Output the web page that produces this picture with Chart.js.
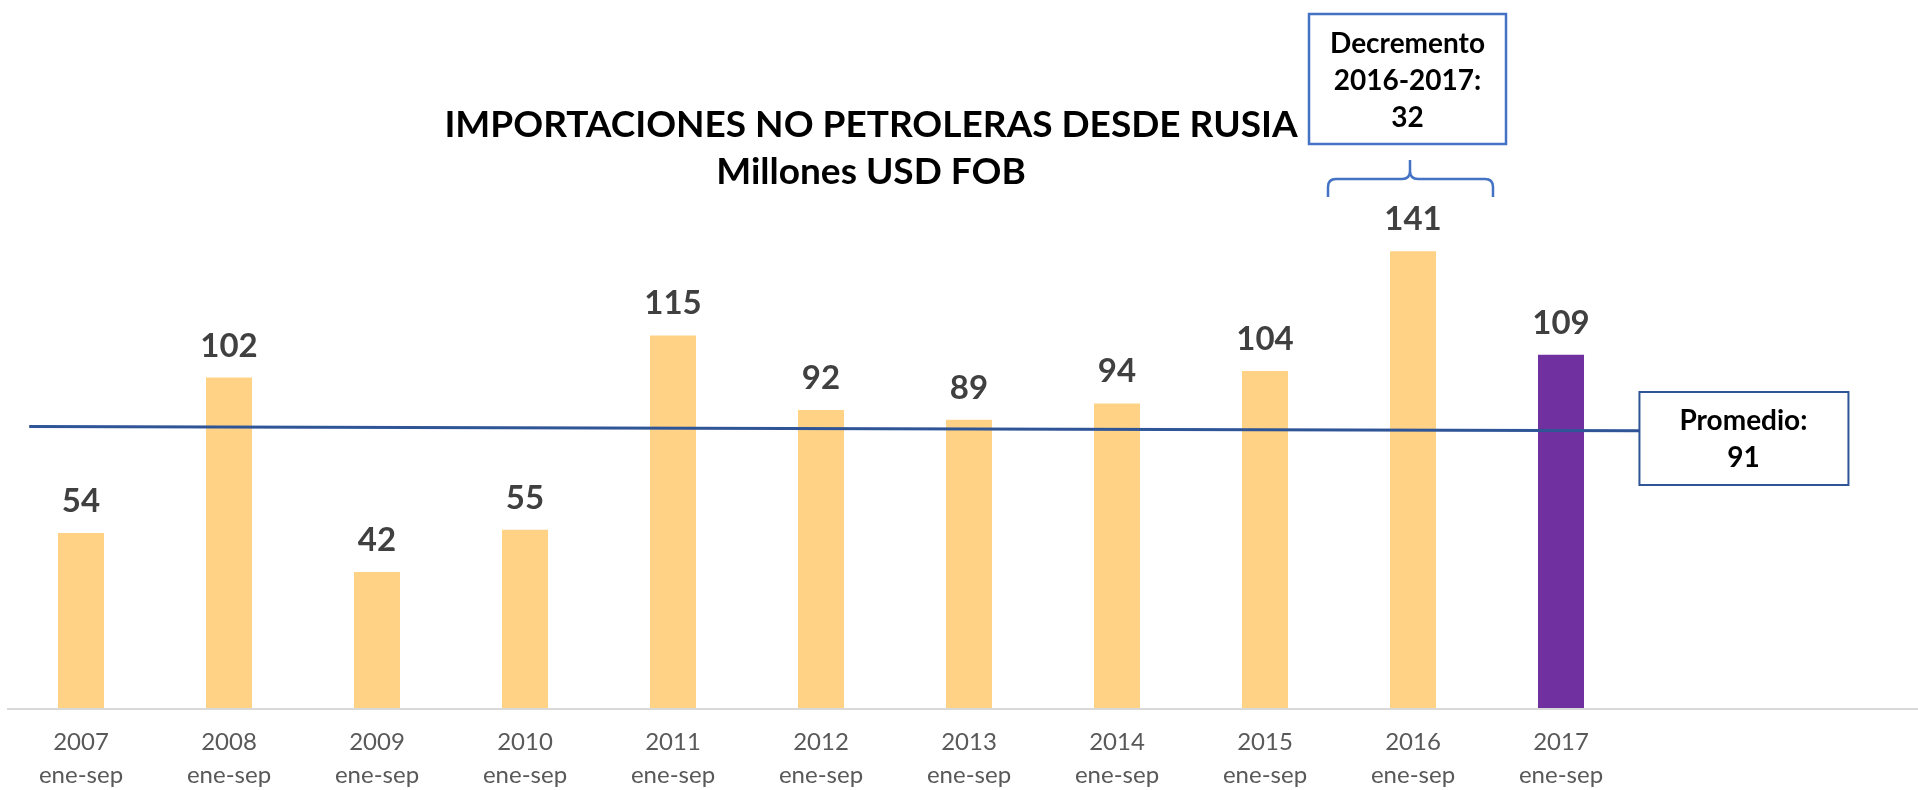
<!DOCTYPE html>
<html>
<head>
<meta charset="utf-8">
<script src="https://cdn.jsdelivr.net/npm/chart.js@4.4.1/dist/chart.umd.min.js"></script>
<style>
  html, body { margin:0; padding:0; background:#fff; }
  #wrap { width:1918px; height:790px; }
</style>
</head>
<body>
<div id="wrap"><canvas id="chart"></canvas></div>
<script>
const years = ['2007','2008','2009','2010','2011','2012','2013','2014','2015','2016','2017'];
const period = 'ene-sep';
const values = [54, 102, 42, 55, 115, 92, 89, 94, 104, 141, 109];
const highlightYear = '2017';
// average line as drawn (slightly sloped), x in category units
const avgLineX = [-0.35, 10.53];
const avgLineY = [86.9, 85.6];
const promedio = 91;
const decremento = 32;
const titleLines = ['IMPORTACIONES NO PETROLERAS DESDE RUSIA', 'Millones USD FOB'];

const barColors = years.map(y => y === highlightYear ? '#7030A0' : '#FFD286');

const FONT = 'Lato, "Noto Sans", sans-serif';

const extras = {
  id: 'extras',
  beforeDatasetsDraw(chart) {
    const { ctx, chartArea, scales: { y } } = chart;
    const y0 = Math.round(y.getPixelForValue(0)) + 1;
    ctx.save();
    ctx.strokeStyle = '#D9D9D9';
    ctx.lineWidth = 2;
    ctx.beginPath();
    ctx.moveTo(chartArea.left, y0);
    ctx.lineTo(chart.width, y0);
    ctx.stroke();
    ctx.restore();
  },
  afterDatasetsDraw(chart) {
    const { ctx, scales: { x, x2 } } = chart;
    ctx.save();

    // value labels
    const meta = chart.getDatasetMeta(1);
    ctx.font = 'bold 33px ' + FONT;
    ctx.fillStyle = '#404040';
    ctx.textAlign = 'center';
    ctx.textBaseline = 'alphabetic';
    meta.data.forEach((bar, i) => ctx.fillText(values[i], bar.x, bar.y - 21));

    // title
    ctx.fillStyle = '#000';
    ctx.textBaseline = 'middle';
    ctx.font = 'bold 37px ' + FONT;
    ctx.fillText(titleLines[0], 871, 125);
    ctx.fillText(titleLines[1], 871, 172);

    // Decremento box + brace over 2016
    const cx = x.getPixelForValue(9);
    ctx.fillStyle = '#fff';
    ctx.fillRect(cx - 104, 14, 197, 130);
    ctx.strokeStyle = '#4472C4';
    ctx.lineWidth = 2.5;
    ctx.strokeRect(cx - 104, 14, 197, 130);
    ctx.fillStyle = '#000';
    ctx.font = 'bold 28px ' + FONT;
    const bx = cx - 5.5;
    ctx.fillText('Decremento', bx, 44);
    ctx.fillText('2016-2017:', bx, 81);
    ctx.fillText(String(decremento), bx, 118);

    const l = cx - 85, r = cx + 80, t = cx - 3;
    ctx.beginPath();
    ctx.moveTo(l, 197);
    ctx.lineTo(l, 187);
    ctx.quadraticCurveTo(l, 179, l + 8, 179);
    ctx.lineTo(t - 8, 179);
    ctx.quadraticCurveTo(t, 179, t, 171);
    ctx.lineTo(t, 160);
    ctx.moveTo(t, 171);
    ctx.quadraticCurveTo(t, 179, t + 8, 179);
    ctx.lineTo(r - 8, 179);
    ctx.quadraticCurveTo(r, 179, r, 187);
    ctx.lineTo(r, 197);
    ctx.stroke();

    // Promedio box at end of average line
    const px = x2.getPixelForValue(avgLineX[1]);
    ctx.fillStyle = '#fff';
    ctx.fillRect(px, 392, 209, 93);
    ctx.strokeStyle = '#2F5597';
    ctx.lineWidth = 2;
    ctx.strokeRect(px, 392, 209, 93);
    ctx.fillStyle = '#000';
    ctx.font = 'bold 28px ' + FONT;
    ctx.fillText('Promedio:', px + 104, 421);
    ctx.fillText(String(promedio), px + 104, 458);

    ctx.restore();
  }
};

new Chart(document.getElementById('chart'), {
  type: 'bar',
  data: {
    labels: years.map(y => [y, period]),
    datasets: [
      {
        type: 'line',
        data: avgLineX.map((v, i) => ({ x: v, y: avgLineY[i] })),
        xAxisID: 'x2',
        borderColor: '#2F5597',
        borderWidth: 3,
        pointRadius: 0,
        clip: false,
        order: 0
      },
      {
        data: values,
        backgroundColor: barColors,
        grouped: false,
        barPercentage: 0.311,
        categoryPercentage: 1,
        order: 1
      }
    ]
  },
  options: {
    responsive: true,
    maintainAspectRatio: false,
    animation: false,
    layout: { padding: { left: 7, right: 283, top: 60, bottom: 0 } },
    plugins: { legend: { display: false }, tooltip: { enabled: false }, title: { display: false } },
    scales: {
      x: {
        grid: { display: false, drawTicks: false },
        border: { display: false },
        ticks: {
          color: '#595959',
          padding: 18,
          maxRotation: 0,
          autoSkip: false,
          font: { family: FONT, size: 24, lineHeight: 1.375 }
        },
        afterFit(scale) { scale.height = 82; }
      },
      x2: { type: 'linear', display: false, offset: false, min: -0.5, max: 10.5 },
      y: { display: false, min: 0, max: 200 }
    }
  },
  plugins: [extras]
});
</script>
</body>
</html>
